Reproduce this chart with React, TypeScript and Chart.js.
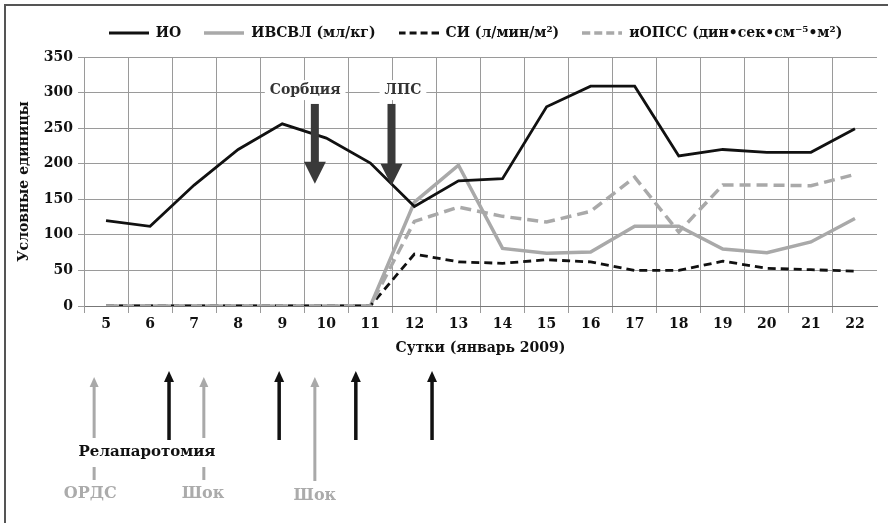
import React, { useEffect, useRef } from "react";
import { Chart, registerables } from "chart.js";

Chart.register(...registerables);

// ---- data ----
const days = ["5", "6", "7", "8", "9", "10", "11", "12", "13", "14", "15", "16", "17", "18", "19", "20", "21", "22"];
const io = [120, 112, 170, 220, 256, 236, 201, 140, 176, 179, 280, 309, 309, 211, 220, 216, 216, 249];
const ivsvl = [0, 0, 0, 0, 0, 0, 0, 146, 198, 81, 74, 76, 112, 112, 80, 75, 90, 123];
const si = [0, 0, 0, 0, 0, 0, 0, 73, 62, 60, 65, 62, 50, 50, 63, 53, 51, 49];
const iopss = [0, 0, 0, 0, 0, 0, 0, 119, 139, 126, 118, 133, 181, 104, 170, 170, 169, 185];

const seriesNames = ["ИО", "ИВСВЛ (мл/кг)", "СИ (л/мин/м²)", "иОПСС (дин•сек•см⁻⁵•м²)"];
const yTicks = [0, 50, 100, 150, 200, 250, 300, 350];

// annotations (x in category-index units, y in data units)
const topNotes = [
  { label: "Сорбция", labelX: 4.52, arrowX: 4.74 },
  { label: "ЛПС", labelX: 6.74, arrowX: 6.48 },
];
const topNoteLabelY = 303.5;
const topArrowFrom = 284;
const topArrowTo = [172, 169];

const blackUpArrows = [1.43, 3.93, 5.67, 7.4];
const grayUpArrows = [-0.27, 2.22, 4.74];
const bottomLabels = [
  { text: "Релапаротомия", x: 0.93, color: "#111" },
  { text: "ОРДС", x: -0.36, color: "#ababab" },
  { text: "Шок", x: 2.2, color: "#ababab" },
  { text: "Шок", x: 4.74, color: "#ababab" },
];

const FONT = "'DejaVu Serif', 'Liberation Serif', serif";
const GRID = "#9a9a9a";
const GRAY = "#a9a9a9";
const LEGEND_SHIFT = 31;

const seriesColors = ["#111", GRAY, "#111", GRAY];
const seriesWidths = [2.8, 3.5, 2.8, 3.5];
const seriesDashes: number[][] = [[], [], [8, 5], [11, 6]];
const legendDashes: number[][] = [[], [], [7, 4], [8, 4]];

function makeLegendLine(color: string, width: number, dash: number[]) {
  const c = document.createElement("canvas");
  c.width = 40;
  c.height = 6;
  const g = c.getContext("2d")!;
  g.strokeStyle = color;
  g.lineWidth = width;
  g.setLineDash(dash);
  g.beginPath();
  g.moveTo(0, 3);
  g.lineTo(40, 3);
  g.stroke();
  return c;
}

export default function App() {
  const ref = useRef<HTMLCanvasElement>(null);

  useEffect(() => {
    const canvas = ref.current!;
    const legendImgs = seriesColors.map((c, i) => makeLegendLine(c, seriesWidths[i], legendDashes[i]));

    const notes = {
      id: "notes",
      afterLayout(chart: any) {
        if (chart.legend) {
          chart.legend.left += LEGEND_SHIFT;
          chart.legend.right += LEGEND_SHIFT;
        }
      },
      beforeDraw(chart: any) {
        const ctx = chart.ctx;
        ctx.save();
        ctx.fillStyle = "#fff";
        ctx.fillRect(0, 0, chart.width, chart.height);
        ctx.strokeStyle = "#555";
        ctx.lineWidth = 2;
        ctx.beginPath();
        ctx.moveTo(chart.width, 5);
        ctx.lineTo(5, 5);
        ctx.lineTo(5, chart.height);
        ctx.stroke();
        ctx.restore();
      },
      afterDatasetsDraw(chart: any) {
        const ctx = chart.ctx;
        const xs = chart.scales.x;
        const ys = chart.scales.y;
        ctx.save();
        ctx.font = `bold 14px ${FONT}`;
        ctx.textAlign = "center";
        ctx.textBaseline = "middle";
        topNotes.forEach((n, i) => {
          const lx = xs.getPixelForValue(n.labelX);
          const ly = ys.getPixelForValue(topNoteLabelY);
          const w = ctx.measureText(n.label).width;
          ctx.fillStyle = "#fff";
          ctx.fillRect(lx - w / 2 - 5, ly - 10, w + 10, 20);
          ctx.fillStyle = "#333";
          ctx.fillText(n.label, lx, ly);
          const ax = xs.getPixelForValue(n.arrowX);
          const y0 = ys.getPixelForValue(topArrowFrom);
          const y1 = ys.getPixelForValue(topArrowTo[i]);
          const headH = 22;
          const headW = 22;
          ctx.fillStyle = "#3a3a3a";
          ctx.fillRect(ax - 4, y0, 8, y1 - y0 - headH + 1);
          ctx.beginPath();
          ctx.moveTo(ax - headW / 2, y1 - headH);
          ctx.lineTo(ax + headW / 2, y1 - headH);
          ctx.lineTo(ax, y1);
          ctx.closePath();
          ctx.fill();
        });
        ctx.restore();
      },
      afterDraw(chart: any) {
        const ctx = chart.ctx;
        const xs = chart.scales.x;
        ctx.save();
        const upArrow = (x: number, top: number, bottom: number, color: string, sw: number, hw: number, hh: number) => {
          ctx.fillStyle = color;
          ctx.fillRect(x - sw / 2, top + hh - 1, sw, bottom - top - hh + 1);
          ctx.beginPath();
          ctx.moveTo(x - hw / 2, top + hh);
          ctx.lineTo(x + hw / 2, top + hh);
          ctx.lineTo(x, top);
          ctx.closePath();
          ctx.fill();
        };
        blackUpArrows.forEach((v) => upArrow(xs.getPixelForValue(v), 371, 440, "#111", 3.5, 10, 11));
        grayUpArrows.forEach((v, i) => {
          const x = xs.getPixelForValue(v);
          if (i < 2) {
            upArrow(x, 377, 438, GRAY, 3, 9, 10);
            ctx.fillStyle = GRAY;
            ctx.fillRect(x - 1.5, 467, 3, 13);
          } else {
            upArrow(x, 377, 481, GRAY, 3, 9, 10);
          }
        });
        ctx.textAlign = "center";
        ctx.textBaseline = "middle";
        bottomLabels.forEach((b, i) => {
          ctx.font = `bold ${i === 0 ? 15 : 16}px ${FONT}`;
          ctx.fillStyle = b.color;
          const y = i === 0 ? 452 : i === 3 ? 496 : 494;
          ctx.fillText(b.text, xs.getPixelForValue(b.x), y);
        });
        ctx.restore();
      },
    };

    const datasets = [io, ivsvl, si, iopss].map((d, i) => ({
      label: seriesNames[i],
      data: d,
      borderColor: seriesColors[i],
      backgroundColor: seriesColors[i],
      borderWidth: seriesWidths[i],
      borderDash: seriesDashes[i],
      pointRadius: 0,
      order: [0, 3, 2, 1][i],
    }));

    const chart = new Chart(canvas, {
      type: "line",
      data: { labels: days, datasets },
      options: {
        responsive: false,
        animation: false,
        layout: { padding: { left: 12, right: 11, top: 3, bottom: 162 } },
        plugins: {
          tooltip: { enabled: false },
          subtitle: {
            display: true,
            text: "",
            weight: 500,
            padding: 0,
            font: { size: 7, lineHeight: 1 },
          },
          legend: {
            position: "top",
            labels: {
              usePointStyle: true,
              pointStyleWidth: 40,
              padding: 23,
              color: "#111",
              font: { family: FONT, size: 14, weight: "bold" },
              sort: (a: any, b: any) => a.datasetIndex - b.datasetIndex,
              generateLabels: (ch: any) =>
                (Chart.defaults.plugins.legend.labels as any)
                  .generateLabels(ch)
                  .map((it: any) => ({ ...it, pointStyle: legendImgs[it.datasetIndex] })),
            },
          },
        },
        scales: {
          x: {
            offset: true,
            grid: {
              offset: true,
              color: (c: any) => (c.index === undefined ? "rgba(0,0,0,0)" : GRID),
              tickLength: 7,
              lineWidth: 1,
            },
            border: { color: "#777", width: 1 },
            ticks: { color: "#111", padding: 3, font: { family: FONT, size: 14, weight: "bold" } },
            title: {
              display: true,
              text: "Сутки (январь 2009)",
              color: "#111",
              font: { family: FONT, size: 14, weight: "bold" },
              padding: { top: 4, bottom: 4 },
            },
            afterFit: (s: any) => {
              s.height = 55;
            },
          },
          y: {
            min: 0,
            max: 350,
            afterBuildTicks: (s: any) => {
              s.ticks = yTicks.map((v) => ({ value: v }));
            },
            grid: { color: GRID, tickLength: 6, lineWidth: 1 },
            border: { color: GRID, width: 1 },
            ticks: { color: "#111", padding: 5, font: { family: FONT, size: 14, weight: "bold" } },
            title: {
              display: true,
              text: "Условные единицы",
              color: "#111",
              font: { family: FONT, size: 14, weight: "bold" },
              padding: { top: 4, bottom: 4 },
            },
            afterFit: (s: any) => {
              s.width = 72;
            },
          },
        },
      },
      plugins: [notes],
    } as any);

    return () => chart.destroy();
  }, []);

  return (
    <div style={{ position: "absolute", left: 0, top: 0, width: 888, height: 523, background: "#fff" }}>
      <canvas ref={ref} width={888} height={523} style={{ width: 888, height: 523, display: "block" }} />
    </div>
  );
}
